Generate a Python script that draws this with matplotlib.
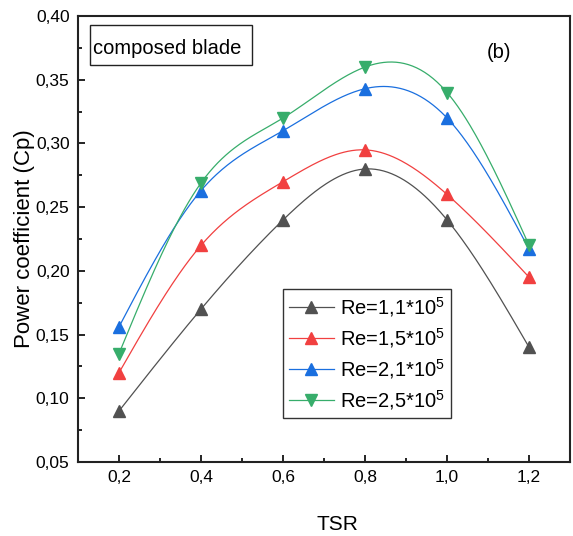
import numpy as np
import matplotlib
matplotlib.use("Agg")
import matplotlib.pyplot as plt
from matplotlib.ticker import FuncFormatter, MultipleLocator
from matplotlib.patches import Rectangle

plt.rcParams['font.family'] = ['Liberation Sans', 'DejaVu Sans']
plt.rcParams['mathtext.fontset'] = 'custom'
plt.rcParams['mathtext.rm'] = 'Liberation Sans'
plt.rcParams['mathtext.default'] = 'regular'

tsr = [0.2, 0.4, 0.6, 0.8, 1.0, 1.2]
cp_re11 = [0.090, 0.170, 0.240, 0.280, 0.240, 0.140]
cp_re15 = [0.120, 0.220, 0.270, 0.295, 0.260, 0.195]
cp_re21 = [0.156, 0.263, 0.310, 0.343, 0.320, 0.217]
cp_re25 = [0.135, 0.269, 0.320, 0.360, 0.340, 0.220]
labels = ["Re=1,1*10$^{5}$", "Re=1,5*10$^{5}$", "Re=2,1*10$^{5}$", "Re=2,5*10$^{5}$"]
colors = ["#515151", "#F14040", "#1A6FDF", "#37AD6B"]
markers = ["^", "^", "^", "v"]


def natural_spline(x, y, n=300):
    x = np.asarray(x, float)
    y = np.asarray(y, float)
    k = len(x)
    h = np.diff(x)
    A = np.zeros((k, k))
    b = np.zeros(k)
    A[0, 0] = 1
    A[-1, -1] = 1
    for i in range(1, k - 1):
        A[i, i - 1] = h[i - 1]
        A[i, i] = 2 * (h[i - 1] + h[i])
        A[i, i + 1] = h[i]
        b[i] = 6 * ((y[i + 1] - y[i]) / h[i] - (y[i] - y[i - 1]) / h[i - 1])
    M = np.linalg.solve(A, b)
    xs = np.linspace(x[0], x[-1], n)
    idx = np.clip(np.searchsorted(x, xs) - 1, 0, k - 2)
    x0, x1 = x[idx], x[idx + 1]
    hh = x1 - x0
    t0 = x1 - xs
    t1 = xs - x0
    ys = (M[idx] * t0 ** 3 / (6 * hh) + M[idx + 1] * t1 ** 3 / (6 * hh)
          + (y[idx] / hh - M[idx] * hh / 6) * t0
          + (y[idx + 1] / hh - M[idx + 1] * hh / 6) * t1)
    return xs, ys


fig = plt.figure(figsize=(5.73, 5.36), dpi=100)
ax = fig.add_axes([0.136, 0.138, 0.859, 0.832])

series = [cp_re11, cp_re15, cp_re21, cp_re25]
for yv, lab, c, m in zip(series, labels, colors, markers):
    xs, ys = natural_spline(tsr, yv)
    ax.plot(xs, ys, color=c, lw=0.9)
    ax.plot(tsr, yv, linestyle='none', marker=m, ms=9, color=c)
    ax.plot([], [], color=c, lw=0.9, marker=m, ms=9, label=lab)

ax.set_xlim(0.1, 1.3)
ax.set_ylim(0.05, 0.40)
ax.xaxis.set_major_locator(MultipleLocator(0.2))
ax.xaxis.set_minor_locator(MultipleLocator(0.1))
ax.yaxis.set_major_locator(MultipleLocator(0.05))
ax.yaxis.set_minor_locator(MultipleLocator(0.025))
ax.xaxis.set_major_formatter(FuncFormatter(lambda v, p: f"{v:.1f}".replace('.', ',')))
ax.yaxis.set_major_formatter(FuncFormatter(lambda v, p: f"{v:.2f}".replace('.', ',')))
ax.tick_params(which='both', direction='in', top=False, right=False, labelsize=12.5, width=1.2)
ax.tick_params(which='major', length=5, pad=6)
ax.tick_params(which='minor', length=3)
for s in ax.spines.values():
    s.set_linewidth(1.5)
    s.set_color('#222222')

ax.set_xlabel("TSR", fontsize=15, va='top')
ax.xaxis.set_label_coords(0.528, -0.119)
ax.set_ylabel("Power coefficient (Cp)", fontsize=16)
ax.yaxis.set_label_coords(-0.087, 0.5)

ax.add_patch(Rectangle((0.0244, 0.890), 0.3293, 0.090, transform=ax.transAxes,
                       fill=True, fc='white', ec='#222222', lw=1, zorder=5))
ax.text(0.0305, 0.928, "composed blade", transform=ax.transAxes, fontsize=14.5,
        va='center', ha='left', zorder=6)
ax.text(0.855, 0.919, "(b)", transform=ax.transAxes, fontsize=14.5, va='center', ha='center')

leg = ax.legend(loc='upper left', bbox_to_anchor=(0.417, 0.388), borderaxespad=0, fontsize=14.5,
                fancybox=False, framealpha=1, edgecolor='#333333', handlelength=2.2,
                handletextpad=0.3, labelspacing=0.35, borderpad=0.3)
leg.get_frame().set_linewidth(1)

fig.savefig("out.png", dpi=100)
